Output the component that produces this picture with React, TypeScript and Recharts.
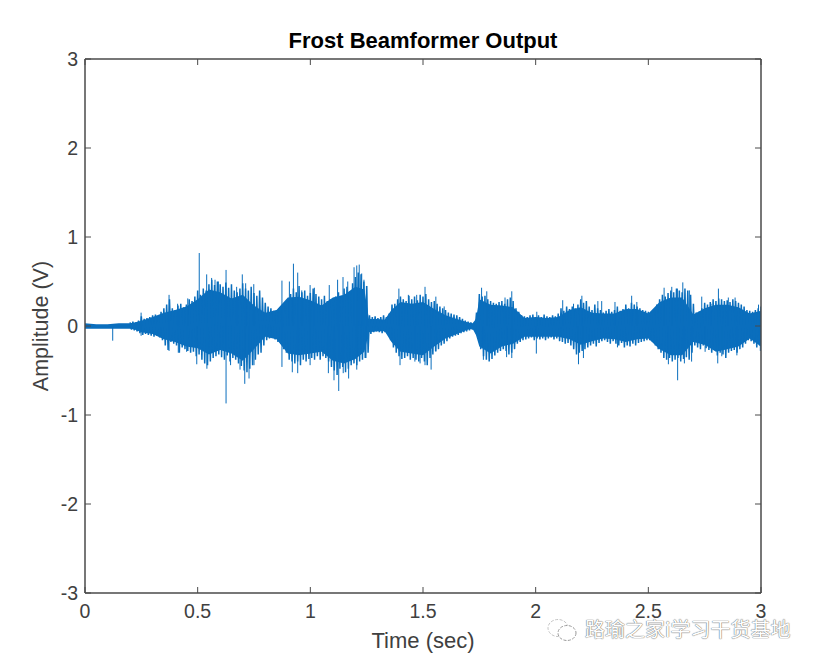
import { ComposedChart, Area, Line, XAxis, YAxis } from "recharts";

const xTicks = [0, 0.5, 1, 1.5, 2, 2.5, 3];
const yTicks = [-3, -2, -1, 0, 1, 2, 3];

// solid body of the waveform
const bodyTimes = [0, 0.05, 0.1, 0.15, 0.2, 0.22, 0.25, 0.3, 0.35, 0.4, 0.45, 0.5, 0.55, 0.6, 0.65, 0.7, 0.75, 0.8, 0.85, 0.9, 0.95, 1, 1.05, 1.1, 1.15, 1.2, 1.24, 1.26, 1.3, 1.33, 1.36, 1.4, 1.45, 1.5, 1.55, 1.6, 1.65, 1.7, 1.72, 1.735, 1.75, 1.8, 1.85, 1.9, 1.95, 2, 2.05, 2.1, 2.15, 2.2, 2.25, 2.3, 2.35, 2.4, 2.45, 2.5, 2.55, 2.6, 2.65, 2.7, 2.75, 2.8, 2.85, 2.9, 2.95, 3];
const bodyUpper = [0.03, 0.02, 0.02, 0.03, 0.03, 0.04, 0.06, 0.1, 0.15, 0.18, 0.22, 0.3, 0.41, 0.38, 0.31, 0.35, 0.23, 0.15, 0.18, 0.32, 0.33, 0.29, 0.23, 0.32, 0.35, 0.44, 0.41, 0.08, 0.08, 0.07, 0.18, 0.27, 0.25, 0.27, 0.19, 0.12, 0.08, 0.04, 0.03, 0.08, 0.3, 0.24, 0.23, 0.21, 0.09, 0.1, 0.09, 0.1, 0.18, 0.21, 0.15, 0.14, 0.14, 0.19, 0.19, 0.14, 0.27, 0.32, 0.32, 0.13, 0.2, 0.24, 0.24, 0.21, 0.14, 0.17];
const bodyLower = [-0.03, -0.03, -0.03, -0.03, -0.03, -0.04, -0.07, -0.09, -0.15, -0.18, -0.23, -0.25, -0.32, -0.27, -0.31, -0.39, -0.26, -0.12, -0.15, -0.31, -0.33, -0.31, -0.29, -0.39, -0.42, -0.37, -0.29, -0.07, -0.06, -0.06, -0.18, -0.29, -0.31, -0.33, -0.23, -0.14, -0.09, -0.04, -0.03, -0.1, -0.23, -0.31, -0.23, -0.2, -0.12, -0.12, -0.12, -0.12, -0.15, -0.21, -0.17, -0.14, -0.15, -0.18, -0.15, -0.14, -0.26, -0.33, -0.33, -0.18, -0.21, -0.29, -0.26, -0.23, -0.14, -0.23];

// rough edge, one reading every 0.0125 s from 0.2 s on (20 per row = 0.25 s)
const edgeStart = 0.2;
const edgeStep = 0.0125;
const edgeUpper = [
  0.04, 0.05, 0.04, 0.06, 0.11, 0.08, 0.09, 0.1, 0.12, 0.13, 0.11, 0.16, 0.2, 0.24, 0.3, 0.2, 0.18, 0.23, 0.25, 0.21,
  0.24, 0.3, 0.28, 0.33, 0.4, 0.35, 0.42, 0.4, 0.47, 0.52, 0.46, 0.5, 0.47, 0.44, 0.49, 0.43, 0.47, 0.4, 0.38, 0.42,
  0.48, 0.42, 0.4, 0.44, 0.37, 0.34, 0.4, 0.32, 0.26, 0.22, 0.2, 0.17, 0.18, 0.2, 0.17, 0.22, 0.28, 0.36, 0.42, 0.38,
  0.45, 0.38, 0.4, 0.34, 0.37, 0.42, 0.36, 0.33, 0.3, 0.34, 0.28, 0.3, 0.26, 0.33, 0.38, 0.34, 0.42, 0.44, 0.38, 0.48,
  0.55, 0.6, 0.58, 0.5, 0.45, 0.12, 0.1, 0.11, 0.09, 0.1, 0.12, 0.1, 0.14, 0.24, 0.25, 0.3, 0.33, 0.3, 0.28, 0.34,
  0.3, 0.33, 0.29, 0.35, 0.33, 0.36, 0.3, 0.27, 0.28, 0.25, 0.22, 0.2, 0.18, 0.15, 0.14, 0.13, 0.12, 0.1, 0.08, 0.06,
  0.05, 0.04, 0.03, 0.15, 0.36, 0.33, 0.34, 0.3, 0.28, 0.26, 0.25, 0.27, 0.28, 0.25, 0.3, 0.32, 0.28, 0.2, 0.16, 0.12,
  0.11, 0.1, 0.12, 0.13, 0.1, 0.12, 0.1, 0.13, 0.11, 0.1, 0.12, 0.11, 0.14, 0.2, 0.17, 0.22, 0.19, 0.22, 0.2, 0.24,
  0.3, 0.26, 0.28, 0.22, 0.18, 0.24, 0.2, 0.18, 0.15, 0.17, 0.19, 0.16, 0.18, 0.22, 0.17, 0.19, 0.24, 0.2, 0.26, 0.24,
  0.22, 0.2, 0.18, 0.17, 0.16, 0.15, 0.19, 0.24, 0.3, 0.35, 0.33, 0.37, 0.4, 0.38, 0.42, 0.4, 0.38, 0.42, 0.4, 0.35,
  0.25, 0.15, 0.16, 0.2, 0.26, 0.24, 0.27, 0.3, 0.28, 0.31, 0.3, 0.28, 0.29, 0.27, 0.3, 0.28, 0.26, 0.24, 0.22, 0.18,
  0.17, 0.16, 0.18, 0.2, 0.22,
];
const edgeLower = [
  -0.04, -0.05, -0.06, -0.08, -0.1, -0.09, -0.1, -0.11, -0.12, -0.11, -0.13, -0.16, -0.22, -0.27, -0.18, -0.2, -0.22, -0.3, -0.24, -0.26,
  -0.28, -0.3, -0.29, -0.34, -0.32, -0.38, -0.42, -0.44, -0.4, -0.36, -0.34, -0.32, -0.35, -0.38, -0.33, -0.4, -0.36, -0.38, -0.42, -0.45,
  -0.5, -0.52, -0.48, -0.44, -0.38, -0.32, -0.3, -0.22, -0.16, -0.14, -0.13, -0.15, -0.18, -0.2, -0.26, -0.3, -0.38, -0.4, -0.42, -0.4,
  -0.44, -0.38, -0.4, -0.37, -0.36, -0.38, -0.34, -0.38, -0.34, -0.36, -0.4, -0.46, -0.5, -0.55, -0.48, -0.46, -0.52, -0.48, -0.44, -0.42,
  -0.44, -0.4, -0.38, -0.36, -0.3, -0.09, -0.07, -0.06, -0.07, -0.08, -0.07, -0.1, -0.16, -0.24, -0.3, -0.34, -0.37, -0.36, -0.34, -0.38,
  -0.36, -0.38, -0.4, -0.36, -0.4, -0.44, -0.36, -0.32, -0.28, -0.26, -0.22, -0.2, -0.17, -0.14, -0.12, -0.11, -0.1, -0.08, -0.07, -0.06,
  -0.05, -0.04, -0.04, -0.12, -0.26, -0.34, -0.38, -0.4, -0.37, -0.33, -0.3, -0.28, -0.26, -0.28, -0.32, -0.3, -0.26, -0.2, -0.18, -0.16,
  -0.15, -0.14, -0.13, -0.16, -0.14, -0.15, -0.14, -0.16, -0.14, -0.13, -0.15, -0.14, -0.17, -0.18, -0.2, -0.19, -0.22, -0.26, -0.32, -0.3,
  -0.28, -0.26, -0.24, -0.22, -0.2, -0.23, -0.19, -0.17, -0.16, -0.18, -0.2, -0.17, -0.2, -0.22, -0.19, -0.24, -0.22, -0.23, -0.2, -0.22,
  -0.19, -0.18, -0.17, -0.16, -0.16, -0.18, -0.22, -0.26, -0.3, -0.36, -0.38, -0.36, -0.4, -0.38, -0.36, -0.4, -0.37, -0.35, -0.38, -0.3,
  -0.22, -0.24, -0.26, -0.22, -0.25, -0.27, -0.3, -0.26, -0.33, -0.3, -0.32, -0.36, -0.3, -0.28, -0.27, -0.3, -0.26, -0.24, -0.2, -0.16,
  -0.17, -0.2, -0.24, -0.22, -0.26,
];

// single excursions that stick out of the rest
const peakTimes = [0.249, 0.373, 0.411, 0.456, 0.507, 0.54, 0.562, 0.577, 0.592, 0.626, 0.673, 0.698, 0.713, 0.749, 0.874, 0.907, 0.925, 0.944, 0.962, 0.999, 1.018, 1.084, 1.121, 1.145, 1.166, 1.194, 1.206, 1.217, 1.228, 1.238, 1.25, 1.393, 1.435, 1.472, 1.509, 1.557, 1.594, 1.76, 1.783, 1.864, 1.894, 2.005, 2.12, 2.168, 2.205, 2.276, 2.293, 2.352, 2.426, 2.449, 2.57, 2.604, 2.629, 2.653, 2.682, 2.737, 2.778, 2.811, 2.855, 2.885, 2.989];
const peakValues = [0.15, 0.35, 0.25, 0.31, 0.82, 0.58, 0.54, 0.52, 0.5, 0.63, 0.44, 0.58, 0.48, 0.47, 0.51, 0.5, 0.7, 0.6, 0.4, 0.46, 0.43, 0.46, 0.52, 0.55, 0.5, 0.66, 0.68, 0.69, 0.59, 0.52, 0.45, 0.42, 0.35, 0.35, 0.44, 0.33, 0.22, 0.43, 0.39, 0.32, 0.39, 0.16, 0.29, 0.25, 0.34, 0.28, 0.28, 0.27, 0.34, 0.27, 0.43, 0.44, 0.42, 0.49, 0.4, 0.33, 0.25, 0.42, 0.32, 0.32, 0.24];
const dipTimes = [0.123, 0.249, 0.373, 0.414, 0.451, 0.496, 0.541, 0.626, 0.646, 0.688, 0.709, 0.728, 0.75, 0.874, 0.92, 0.944, 0.999, 1.08, 1.105, 1.126, 1.146, 1.17, 1.206, 1.247, 1.398, 1.464, 1.487, 1.509, 1.536, 1.557, 1.768, 1.871, 1.894, 2.003, 2.19, 2.212, 2.363, 2.589, 2.63, 2.66, 2.692, 2.752, 2.808, 2.826, 2.893, 2.997];
const dipValues = [-0.165, -0.11, -0.28, -0.3, -0.29, -0.43, -0.48, -0.87, -0.44, -0.49, -0.65, -0.59, -0.44, -0.46, -0.52, -0.53, -0.44, -0.53, -0.61, -0.73, -0.53, -0.59, -0.49, -0.36, -0.44, -0.4, -0.42, -0.44, -0.49, -0.29, -0.38, -0.35, -0.36, -0.31, -0.43, -0.36, -0.24, -0.43, -0.61, -0.42, -0.4, -0.29, -0.42, -0.34, -0.33, -0.28];

const bodyData = bodyTimes.map((t, i) => ({ t, range: [bodyLower[i], bodyUpper[i]] }));

// each stem is its own segment, the null breaks the line
const stems = (times: number[], values: number[]) =>
  times.flatMap((t, i) => [{ t, v: 0 }, { t, v: values[i] }, { t, v: null }]);
// the edge readings alternate up and down like the signal itself
const edgeData = edgeUpper.flatMap((up, i) => {
  const t = edgeStart + i * edgeStep;
  return [{ t, v: up }, { t: t + edgeStep / 2, v: edgeLower[i] }];
});
const peakData = [...stems(peakTimes, peakValues), ...stems(dipTimes, dipValues)];

const BLUE = "#0a6ebd";
const AXIS = "#4a4a4a";
const FONT = "'Liberation Sans', Arial, sans-serif";
const TICK = 6;
const GAP = 10;

const BottomTick = ({ x, y, payload }: any) => (
  <g>
    <line x1={x} x2={x} y1={y - GAP} y2={y - GAP - TICK} stroke={AXIS} />
    <text x={x} y={y + 15} textAnchor="middle" fontSize={19.5} fill="#404040">{payload.value}</text>
  </g>
);
const LeftTick = ({ x, y, payload }: any) => (
  <g>
    <line x1={x + GAP} x2={x + GAP + TICK} y1={y} y2={y} stroke={AXIS} />
    <text x={x + 3} y={y + 7} textAnchor="end" fontSize={19.5} fill="#404040">{payload.value}</text>
  </g>
);
const TopTick = ({ x, y }: any) => <line x1={x} x2={x} y1={y} y2={y + TICK} stroke={AXIS} />;
const RightTick = ({ x, y }: any) => <line x1={x} x2={x - TICK} y1={y} y2={y} stroke={AXIS} />;

export default function App() {
  return (
    <div style={{ position: "relative", width: 816, height: 666, margin: "-8px 0 0 -8px", background: "#fff" }}>
      <ComposedChart
        width={816}
        height={666}
        margin={{ top: 29, right: 25, bottom: 33, left: 45 }}
        style={{ fontFamily: FONT }}
      >
        <XAxis
          xAxisId="b"
          dataKey="t"
          type="number"
          domain={[0, 3]}
          allowDataOverflow
          ticks={xTicks}
          height={40}
          interval={0}
          stroke={AXIS}
          strokeWidth={1.5}
          tickSize={0}
          tickLine={false}
          tickMargin={GAP}
          tick={BottomTick}
          label={{ value: "Time (sec)", position: "insideBottom", offset: -15, fontSize: 22, fill: "#404040" }}
        />
        <XAxis
          xAxisId="t"
          orientation="top"
          dataKey="t"
          type="number"
          domain={[0, 3]}
          allowDataOverflow
          ticks={xTicks}
          height={30}
          interval={0}
          stroke={AXIS}
          strokeWidth={1.5}
          tickSize={0}
          tickLine={false}
          tickMargin={0}
          tick={TopTick}
          label={{ value: "Frost Beamformer Output", position: "insideTop", offset: 3, fontSize: 22, fontWeight: 700, fill: "#000" }}
        />
        <YAxis
          yAxisId="l"
          type="number"
          domain={[-3, 3]}
          ticks={yTicks}
          width={40}
          interval={0}
          stroke={AXIS}
          strokeWidth={1.5}
          tickSize={0}
          tickLine={false}
          tickMargin={GAP}
          tick={LeftTick}
          label={{ value: "Amplitude (V)", angle: -90, position: "insideLeft", offset: -5, fontSize: 21.5, fill: "#404040", style: { textAnchor: "middle" } }}
        />
        <YAxis
          yAxisId="r"
          orientation="right"
          type="number"
          domain={[-3, 3]}
          ticks={yTicks}
          width={30}
          interval={0}
          stroke={AXIS}
          strokeWidth={1.5}
          tickSize={0}
          tickLine={false}
          tickMargin={0}
          tick={RightTick}
        />
        <Area
          xAxisId="b"
          yAxisId="l"
          data={bodyData}
          dataKey="range"
          type="linear"
          stroke="none"
          fill={BLUE}
          fillOpacity={1}
          dot={false}
          activeDot={false}
          isAnimationActive={false}
        />
        <Line
          xAxisId="b"
          yAxisId="l"
          data={edgeData}
          dataKey="v"
          type="linear"
          stroke={BLUE}
          strokeWidth={1.5}
          dot={false}
          activeDot={false}
          isAnimationActive={false}
        />
        <Line
          xAxisId="b"
          yAxisId="l"
          data={peakData}
          dataKey="v"
          type="linear"
          stroke={BLUE}
          strokeWidth={1}
          dot={false}
          activeDot={false}
          connectNulls={false}
          isAnimationActive={false}
        />
        {/* keeps the top and right mirror axes drawn */}
        <Line
          xAxisId="t"
          yAxisId="r"
          data={bodyData.map((d) => ({ t: d.t, v: 0 }))}
          dataKey="v"
          stroke="none"
          dot={false}
          activeDot={false}
          isAnimationActive={false}
        />
      </ComposedChart>
      {/* watermark */}
      <svg width={36} height={30} style={{ position: "absolute", left: 545, top: 615 }}>
        <ellipse cx={13} cy={13} rx={10} ry={8.5} fill="none" stroke="#c4c4c4" strokeWidth={1} strokeDasharray="3 1.5" />
        <ellipse cx={22} cy={18} rx={9} ry={7.5} fill="#fff" stroke="#9a9a9a" strokeWidth={1} strokeDasharray="3 1.5" />
      </svg>
      <div
        style={{
          position: "absolute",
          left: 585,
          top: 616,
          fontFamily: "'Noto Sans CJK SC', sans-serif",
          fontSize: 20,
          lineHeight: "26px",
          whiteSpace: "nowrap",
          color: "#fff",
          textShadow: "0 0 1px #666, 0 0 1px #666",
        }}
      >
        路瑜之家i学习干货基地
      </div>
    </div>
  );
}
